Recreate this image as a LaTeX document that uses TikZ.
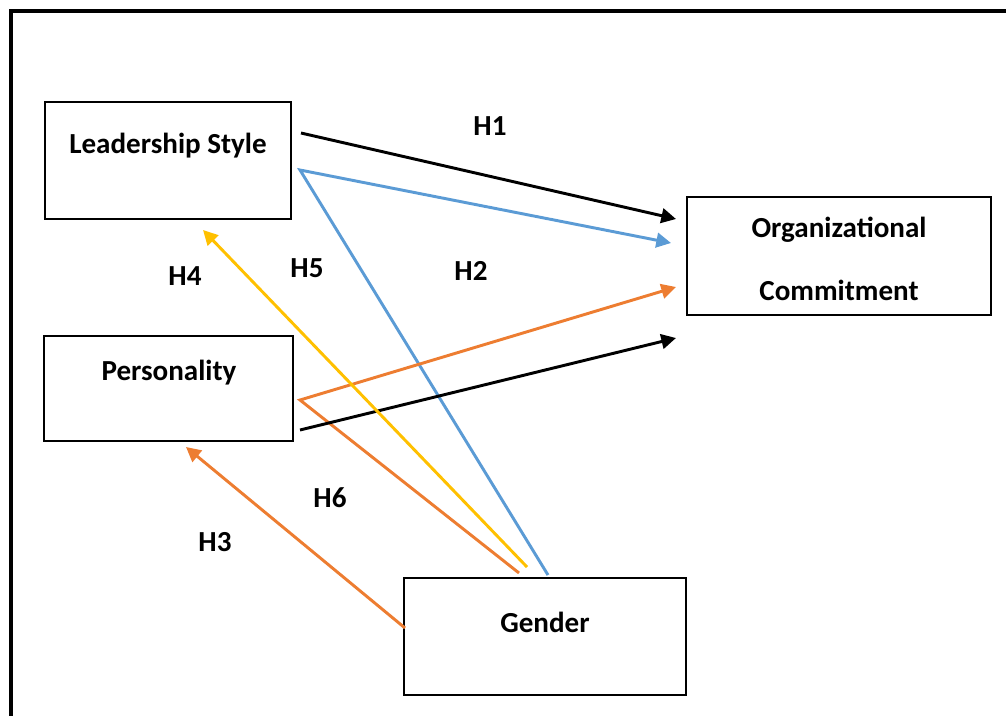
\documentclass[tikz,border=0pt]{standalone}
\usepackage{fontspec}
\setmainfont{Carlito}
\usetikzlibrary{arrows.meta,calc}

\definecolor{hblue}{HTML}{5B9BD5}
\definecolor{horange}{HTML}{ED7D31}
\definecolor{hyellow}{HTML}{FFC000}

\tikzset{
    box/.style={draw, rectangle, line width=1.5pt, inner sep=0pt},
    txt/.style={font=\fontsize{21.8}{26}\selectfont\bfseries, inner sep=0pt},
    hyp/.style={line width=2.2pt, -{Triangle[length=11pt,width=11pt]}},
}

\begin{document}
\begin{tikzpicture}[x=0.75pt, y=-0.75pt]
    \useasboundingbox (0,0) rectangle (1006,715);
    \draw[line width=2.3pt] (11,730) -- (11,11) -- (1020,11);

    % boxes
    \node[box, minimum width=184.5pt, minimum height=87.75pt] (lead) at (168,160.5) {};
    \node[box, minimum width=186.75pt, minimum height=78.75pt] (pers) at (168.5,388.5) {};
    \node[box, minimum width=228pt, minimum height=88.5pt] (org) at (839,256) {};
    \node[box, minimum width=211.5pt, minimum height=87.75pt] (gen) at (545,636.5) {};

    \node[txt] (leadtxt) at (168,146) {Leadership Style};
    \node[txt] (perstxt) at (169,373) {Personality};
    \node[txt, align=center, font=\fontsize{21.8}{47.25}\selectfont\bfseries] (orgtxt) at (839,258.5) {Organizational\\Commitment};
    \node[txt] (gentxt) at (545,622) {Gender};

    % hypotheses
    \draw[hyp, black] ($(lead.east)+(9,-27.5)$) -- ($(org.west)+(-10,-37)$);
    \draw[hyp, hblue] ($(gen.north)+(3,-2)$) -- ($(lead.east)+(8,9.5)$) -- ($(org.west)+(-15,-13)$);
    \draw[hyp, horange] ($(gen.north)+(-26,-4)$) -- ($(pers.east)+(6,11.5)$) -- ($(org.west)+(-10,31)$);
    \draw[hyp, black] ($(pers.east)+(6,41.5)$) -- ($(org.west)+(-10,82)$);
    \draw[hyp, hyellow] ($(gen.north)+(-18,-10)$) -- ($(lead.south)+(35,10)$);
    \draw[hyp, horange] ($(gen.west)+(2,-8.5)$) -- ($(pers.south)+(17.5,5)$);

    \node[txt] (h1) at (490,126) {H1};
    \node[txt] (h2) at (471,271) {H2};
    \node[txt] (h3) at (215,542) {H3};
    \node[txt] (h4) at (185,276) {H4};
    \node[txt] (h5) at (307,268) {H5};
    \node[txt] (h6) at (330,498) {H6};
\end{tikzpicture}
\end{document}
